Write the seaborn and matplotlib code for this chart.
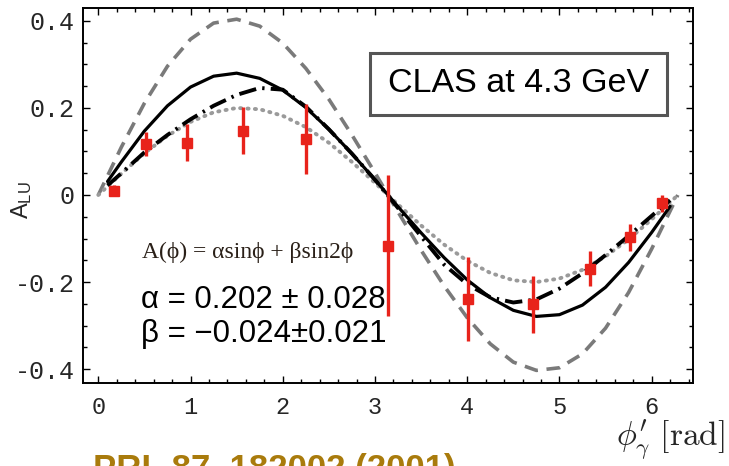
import numpy as np
import pandas as pd
import matplotlib
matplotlib.use("Agg")
import matplotlib.pyplot as plt
from matplotlib.patches import Rectangle
from matplotlib.ticker import MultipleLocator
import seaborn as sns

# ---- data ----
phi_pts = [0.17, 0.52, 0.96, 1.57, 2.25, 3.14, 4.01, 4.71, 5.33, 5.77, 6.11]
alu_pts = [0.010, 0.117, 0.120, 0.148, 0.128, -0.117, -0.239, -0.251, -0.169, -0.097, -0.019]
alu_err = [0.012, 0.027, 0.043, 0.054, 0.080, 0.162, 0.097, 0.065, 0.041, 0.031, 0.019]

# grey dashed curve
phi_dash = [0.0, 0.25, 0.5, 0.75, 1.0, 1.25, 1.5, 1.75, 2.0, 2.25, 2.5, 2.75, 3.0, 3.25,
            3.5, 3.75, 4.0, 4.25, 4.5, 4.75, 5.0, 5.25, 5.5, 5.75, 6.0, 6.25, 6.283]
a_dash = [0.0, 0.110, 0.211, 0.296, 0.358, 0.395, 0.404, 0.388, 0.349, 0.291, 0.220, 0.138,
          0.051, -0.039, -0.127, -0.209, -0.282, -0.342, -0.384, -0.403, -0.397, -0.365,
          -0.306, -0.224, -0.124, -0.015, 0.0]

# black solid curve
phi_solid = [0.1, 0.25, 0.5, 0.75, 1.0, 1.25, 1.5, 1.75, 2.0, 2.25, 2.5, 2.75, 3.0, 3.25,
             3.5, 3.75, 4.0, 4.25, 4.5, 4.75, 5.0, 5.25, 5.5, 5.75, 6.0, 6.2]
a_solid = [0.031, 0.076, 0.147, 0.205, 0.248, 0.273, 0.280, 0.268, 0.241, 0.201, 0.151,
           0.095, 0.035, -0.027, -0.087, -0.144, -0.195, -0.236, -0.265, -0.279, -0.275,
           -0.253, -0.212, -0.155, -0.086, -0.026]

# black dash-dot curve
phi_dd = [0.1, 0.25, 0.5, 0.75, 1.0, 1.25, 1.5, 1.75, 2.0, 2.25, 2.5, 2.75, 3.0, 3.25,
          3.5, 3.75, 4.0, 4.25, 4.5, 4.75, 5.0, 5.25, 5.5, 5.75, 6.0, 6.2]
a_dd = [0.022, 0.050, 0.098, 0.138, 0.174, 0.205, 0.230, 0.246, 0.242, 0.203, 0.151,
        0.095, 0.035, -0.030, -0.095, -0.160, -0.205, -0.235, -0.247, -0.240, -0.215,
        -0.180, -0.138, -0.094, -0.048, -0.012]

# grey dotted curve
phi_dot = [0.0, 0.25, 0.5, 0.75, 1.0, 1.25, 1.5, 1.75, 2.0, 2.25, 2.5, 2.75, 3.0, 3.25,
           3.5, 3.75, 4.0, 4.25, 4.5, 4.75, 5.0, 5.25, 5.5, 5.75, 6.0, 6.25, 6.283]
a_dot = [0.0, 0.049, 0.096, 0.136, 0.168, 0.190, 0.200, 0.197, 0.182, 0.156, 0.120, 0.076,
         0.028, -0.022, -0.070, -0.114, -0.151, -0.179, -0.196, -0.200, -0.192, -0.172,
         -0.141, -0.102, -0.056, -0.007, 0.0]

xticks = [0, 1, 2, 3, 4, 5, 6]
yticks = [-0.4, -0.2, 0.0, 0.2, 0.4]
ytick_labels = ["-0.4", "-0.2", "0", "0.2", "0.4"]

# ---- style ----
sns.set_style("ticks")
plt.rcParams["font.family"] = ["Liberation Sans", "DejaVu Sans"]
plt.rcParams["mathtext.fontset"] = "custom"
plt.rcParams["mathtext.rm"] = "Liberation Sans"
plt.rcParams["mathtext.it"] = "Liberation Sans:italic"

fig = plt.figure(figsize=(7.29, 4.66), dpi=100)
ax = fig.add_axes([83 / 729, 1 - 383 / 466, (692.7 - 83) / 729, (383 - 8.3) / 466])

sns.lineplot(x=phi_dash, y=a_dash, ax=ax, color="#7a7a7a", linewidth=2.6,
             linestyle=(0, (3.8, 2.4)), sort=False, zorder=2)
sns.lineplot(x=phi_dot, y=a_dot, ax=ax, color="#9a9a9a", linewidth=2.8,
             linestyle=(0, (0.3, 1.6)), dash_capstyle="round", sort=False, zorder=2)
sns.lineplot(x=phi_dd, y=a_dd, ax=ax, color="black", linewidth=2.8,
             linestyle=(0, (4.5, 1.6, 0.6, 1.6)), sort=False, zorder=3,
             solid_joinstyle="round", dash_joinstyle="round")
sns.lineplot(x=phi_solid, y=a_solid, ax=ax, color="black", linewidth=2.3,
             sort=False, zorder=3, solid_joinstyle="round")

ax.errorbar(phi_pts, alu_pts, yerr=alu_err, fmt="s", color="#e8231b",
            markersize=7, elinewidth=2.4, capsize=0, zorder=5)

ax.set_xlim(-0.166, 6.445)
ax.set_ylim(-0.432, 0.429)
ax.set_xticks(xticks)
ax.set_xticklabels([str(t) for t in xticks])
ax.set_yticks(yticks)
ax.set_yticklabels(ytick_labels)
ax.xaxis.set_minor_locator(MultipleLocator(0.2))
ax.yaxis.set_minor_locator(MultipleLocator(0.05))
ax.tick_params(which="both", direction="in", top=True, right=True, width=1.0, color="black")
ax.tick_params(which="major", length=5)
ax.tick_params(which="minor", length=3)
ax.tick_params(axis="y", which="major", pad=6)
ax.tick_params(axis="x", which="major", pad=9)
for lab in ax.get_yticklabels():
    lab.set_fontfamily("Liberation Mono")
    lab.set_fontsize(18)
for lab in ax.get_xticklabels():
    lab.set_fontfamily("Liberation Mono")
    lab.set_fontsize(17)
for sp in ax.spines.values():
    sp.set_linewidth(1.4)
    sp.set_color("black")

ax.set_xlabel("")
ax.set_ylabel("")
fig.text(22 / 729, 1 - 200 / 466, r"$\mathrm{A_{LU}}$", rotation=90, ha="center", va="center",
         fontsize=17)

# CLAS box
x0, x1 = (370 - 83) / (692.7 - 83), (667 - 83) / (692.7 - 83)
y1, y0 = (383 - 53) / (383 - 8.3), (383 - 115) / (383 - 8.3)
ax.add_patch(Rectangle((x0, y0), x1 - x0, y1 - y0, transform=ax.transAxes,
                       facecolor="white", edgecolor="#555555", linewidth=2.2, zorder=6))
ax.text((x0 + x1) / 2, (y0 + y1) / 2, "CLAS at 4.3 GeV", transform=ax.transAxes,
        ha="center", va="center", fontsize=24.5, color="black", zorder=7)

# formula and fit values
fig.text(142 / 729, 1 - 252 / 466, "A(ϕ) = αsinϕ + βsin2ϕ", ha="left", va="center",
         fontsize=17, family=["Liberation Serif", "DejaVu Serif"], color="#2a2018")
fig.text(141 / 729, 1 - 300 / 466, "α = 0.202 ± 0.028", ha="left", va="center",
         fontsize=22.5, color="black")
fig.text(141 / 729, 1 - 334 / 466, "β = −0.024±0.021", ha="left", va="center",
         fontsize=22.5, color="black")

# x axis label
fig.text(725 / 729, 1 - 446 / 466, r"$\phi^{\prime}_{\gamma}\ \mathrm{[rad]}$", ha="right",
         va="baseline", fontsize=24, math_fontfamily="cm")

# reference (cut off at bottom, as in the original)
fig.text(93 / 729, 1 - 453 / 466, "PRL 87, 182002 (2001)", ha="left", va="top",
         fontsize=25, weight="bold", color="#a97b0c")

fig.savefig("out.png", dpi=100)
